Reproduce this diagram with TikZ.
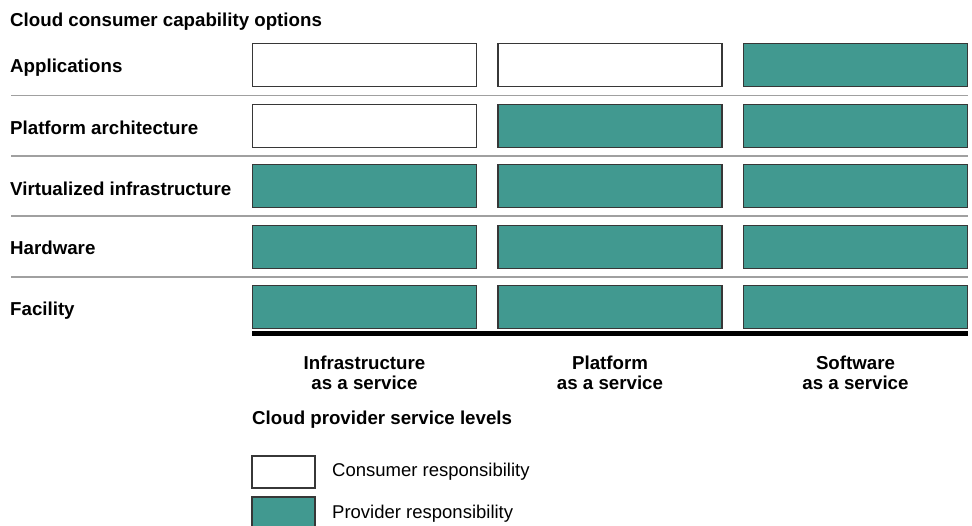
\documentclass[tikz,border=0pt]{standalone}
\usepackage{fontspec}
\setmainfont{Liberation Sans}
\definecolor{teal1}{RGB}{65,153,144}
\definecolor{boxline}{RGB}{55,55,55}
\definecolor{sepline}{RGB}{160,160,160}
\begin{document}
\begin{tikzpicture}[x=1pt,y=-1pt,
  cell/.style={draw=boxline, line width=1.4pt, minimum width=224pt, minimum height=43pt, inner sep=0pt, outer sep=0pt},
  cons/.style={cell, fill=white},
  prov/.style={cell, fill=teal1},
  lbl/.style={font=\fontsize{18.7}{22}\selectfont\bfseries, inner sep=0pt, anchor=base west},
  clbl/.style={font=\fontsize{18.7}{22}\selectfont\bfseries, inner sep=0pt, anchor=base},
  txt/.style={font=\fontsize{18.5}{22}\selectfont, inner sep=0pt, anchor=base west},
  sep/.style={draw=sepline, line width=1.5pt}]
\useasboundingbox (0,0) rectangle (972,525);
\node[lbl] (title) at (10,26) {Cloud consumer capability options};
% row labels
\node[lbl] (rapp) at (10,72) {Applications};
\node[lbl] (rplat) at (10,134) {Platform architecture};
\node[lbl] (rvirt) at (10,195) {Virtualized infrastructure};
\node[lbl] (rhw) at (10,254) {Hardware};
\node[lbl] (rfac) at (10,315) {Facility};
% cells
\node[cons] (a1) at (364.5,65.25) {};
\node[cons] (a2) at (610,65.25) {};
\node[prov] (a3) at (855.5,65.25) {};
\node[cons] (p1) at (364.5,125.75) {};
\node[prov] (p2) at (610,125.75) {};
\node[prov] (p3) at (855.5,125.75) {};
\node[prov] (v1) at (364.5,186.25) {};
\node[prov] (v2) at (610,186.25) {};
\node[prov] (v3) at (855.5,186.25) {};
\node[prov] (h1) at (364.5,246.75) {};
\node[prov] (h2) at (610,246.75) {};
\node[prov] (h3) at (855.5,246.75) {};
\node[prov] (f1) at (364.5,307.25) {};
\node[prov] (f2) at (610,307.25) {};
\node[prov] (f3) at (855.5,307.25) {};
% separators
\coordinate (s1a) at (11,95.5); \coordinate (s1b) at (968,95.5);
\coordinate (s2a) at (11,156); \coordinate (s2b) at (968,156);
\coordinate (s3a) at (11,216); \coordinate (s3b) at (968,216);
\coordinate (s4a) at (11,277); \coordinate (s4b) at (968,277);
\draw[sep] (s1a) -- (s1b);
\draw[sep] (s2a) -- (s2b);
\draw[sep] (s3a) -- (s3b);
\draw[sep] (s4a) -- (s4b);
% base line
\coordinate (ba) at (252,333.5); \coordinate (bb) at (968,333.5);
\draw[black, line width=4.5pt] (ba) -- (bb);
% column labels
\node[clbl] (c1a) at (364.5,369) {Infrastructure};
\node[clbl] (c1b) at (364.5,389) {as a service};
\node[clbl] (c2a) at (610,369) {Platform};
\node[clbl] (c2b) at (610,389) {as a service};
\node[clbl] (c3a) at (855.5,369) {Software};
\node[clbl] (c3b) at (855.5,389) {as a service};
\node[lbl] (prov) at (252,424) {Cloud provider service levels};
% legend
\node[draw=boxline, line width=1.4pt, fill=white, minimum width=63pt, minimum height=32pt, inner sep=0pt, outer sep=0pt, anchor=north west] (lg1) at (252,456) {};
\node[draw=boxline, line width=1.4pt, fill=teal1, minimum width=63pt, minimum height=32pt, inner sep=0pt, outer sep=0pt, anchor=north west] (lg2) at (252,497) {};
\node[txt] (lt1) at (332,476.5) {Consumer responsibility};
\node[txt] (lt2) at (332,518) {Provider responsibility};
\end{tikzpicture}
\end{document}
